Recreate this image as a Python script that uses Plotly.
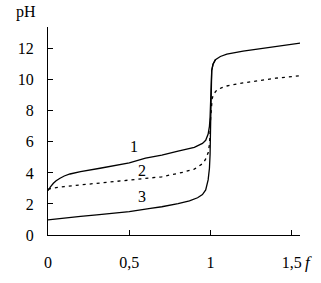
import plotly.graph_objects as go

# Curve 1
f1 = [0, 0.005, 0.015, 0.033, 0.05, 0.074, 0.1, 0.135, 0.2, 0.32, 0.4, 0.5, 0.6, 0.7, 0.8, 0.9,
      0.95, 0.97, 0.985, 0.993, 0.997, 1.0, 1.003, 1.007, 1.015, 1.03, 1.06, 1.1, 1.2, 1.3, 1.4, 1.5, 1.58]
ph1 = [2.85, 2.95, 3.1, 3.33, 3.5, 3.66, 3.8, 3.93, 4.08, 4.3, 4.45, 4.65, 4.95, 5.15, 5.4, 5.65,
       5.9, 6.1, 6.5, 7.0, 7.6, 8.5, 9.8, 10.6, 11.0, 11.3, 11.5, 11.65, 11.85, 12.0, 12.15, 12.3, 12.4]

# Curve 2
f2 = [0, 0.02, 0.05, 0.1, 0.2, 0.28, 0.4, 0.5, 0.63, 0.7, 0.83, 0.9, 0.955, 0.97, 0.985, 0.994,
      1.0, 1.004, 1.01, 1.02, 1.04, 1.07, 1.1, 1.2, 1.3, 1.4, 1.5, 1.58]
ph2 = [2.95, 3.0, 3.05, 3.12, 3.22, 3.3, 3.42, 3.52, 3.66, 3.75, 4.04, 4.25, 4.62, 4.9, 5.3, 5.9,
       7.5, 8.3, 8.8, 9.1, 9.35, 9.5, 9.6, 9.8, 9.95, 10.1, 10.2, 10.3]

# Curve 3
f3 = [0, 0.1, 0.2, 0.3, 0.4, 0.5, 0.63, 0.7, 0.8, 0.87, 0.92, 0.95, 0.97, 0.985, 0.993, 0.997,
      1.0, 1.003, 1.007, 1.015, 1.03]
ph3 = [0.97, 1.1, 1.2, 1.3, 1.4, 1.5, 1.72, 1.82, 2.02, 2.2, 2.4, 2.6, 2.9, 3.55, 4.3, 5.2,
       7.0, 9.8, 10.6, 11.0, 11.3]

x_ticks = [0, 0.5, 1, 1.5]
x_tick_labels = ["0", "0,5", "1", "1,5"]
y_ticks = [0, 2, 4, 6, 8, 10, 12]

labels = ["1", "2", "3"]
label_x = [0.53, 0.58, 0.58]
label_y = [5.7, 4.15, 2.45]

FONT = "Liberation Serif"

fig = go.Figure()
fig.add_trace(go.Scatter(x=f1, y=ph1, mode="lines", line=dict(color="black", width=1.3), showlegend=False))
fig.add_trace(go.Scatter(x=f2, y=ph2, mode="lines", line=dict(color="black", width=1.3, dash="3px,4px"), showlegend=False))
fig.add_trace(go.Scatter(x=f3, y=ph3, mode="lines", line=dict(color="black", width=1.3), showlegend=False))

for t, x, y in zip(labels, label_x, label_y):
    fig.add_annotation(x=x, y=y, text=t, showarrow=False, font=dict(family=FONT, size=16, color="black"))

fig.add_annotation(xref="paper", yref="paper", x=-0.04, y=1.02, text="pH", showarrow=False,
                   xanchor="right", yanchor="bottom", font=dict(family=FONT, size=16, color="black"))
fig.add_annotation(xref="paper", yref="paper", x=1.01, y=-0.13, text="<i>f</i>", showarrow=False,
                   xanchor="left", yanchor="middle", font=dict(family=FONT, size=17, color="black"))

fig.update_layout(
    width=321, height=283,
    margin=dict(l=48, r=21, t=27, b=48),
    plot_bgcolor="white", paper_bgcolor="white",
    font=dict(family=FONT, size=16, color="black"),
)
fig.update_xaxes(range=[0, 1.55], tickvals=x_ticks, ticktext=x_tick_labels, ticks="inside", ticklen=5,
                 tickcolor="black", showline=True, linecolor="black", linewidth=1.3, showgrid=False,
                 zeroline=False, ticklabelstandoff=13)
fig.update_yaxes(range=[0, 13.4], tickvals=y_ticks, ticks="inside", ticklen=5, tickcolor="black",
                 showline=True, linecolor="black", linewidth=1.3, showgrid=False, zeroline=False,
                 ticklabelstandoff=10)

fig.write_html("out.html")
